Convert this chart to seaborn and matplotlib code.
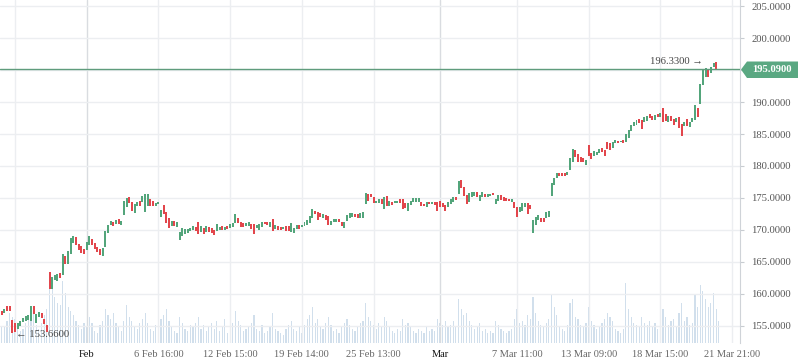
import numpy as np
import pandas as pd
import matplotlib
matplotlib.use("Agg")
import matplotlib.pyplot as plt
from matplotlib.patches import Polygon
import seaborn as sns

# candle bodies, one per bar (open / close)
opens = [
    157.34, 157.34, 156.98, 158.13, 158.13, 155.94, 155.52, 154.58, 154.95, 155.58,
    155.83, 155.94, 155.83, 158.17, 155.42, 156.36, 156.98, 156.09, 155.16, 163.39,
    160.78, 162.19, 162.03, 163.23, 162.97, 165.98, 164.64, 166.30, 167.92, 168.86,
    167.81, 167.50, 167.08, 166.88, 167.66, 168.55, 168.02, 167.30, 167.03, 165.98,
    167.39, 169.48, 170.73, 171.25, 170.89, 171.67, 170.78, 172.34, 173.64, 175.16,
    174.42, 172.70, 173.80, 174.53, 174.42, 172.86, 173.80, 174.84, 174.58, 173.80,
    174.06, 171.98, 173.91, 172.86, 171.92, 170.67, 171.45, 170.47, 168.44, 169.06,
    169.38, 169.48, 169.89, 170.05, 170.52, 171.30, 169.73, 170.27, 169.73, 170.42,
    170.27, 170.00, 169.84, 170.00, 170.67, 170.00, 170.67, 170.31, 170.47, 171.14,
    171.92, 171.30, 171.09, 170.67, 170.67, 170.89, 170.89, 170.27, 170.05, 170.52,
    171.30, 171.30, 170.42, 171.72, 170.11, 170.63, 170.52, 170.11, 170.63, 170.63,
    169.73, 169.53, 170.16, 170.78, 170.42, 170.67, 170.78, 171.09, 171.83, 172.97,
    172.77, 172.61, 171.83, 172.34, 172.23, 170.73, 171.30, 171.20, 171.72, 171.20,
    170.27, 171.45, 171.83, 172.08, 172.50, 172.45, 171.92, 171.92, 174.02, 175.60,
    175.63, 175.10, 174.17, 174.27, 174.79, 173.23, 175.31, 173.75, 174.42, 174.17,
    174.20, 174.79, 174.79, 174.17, 173.02, 173.91, 174.33, 174.42, 174.33, 174.33,
    174.06, 173.54, 174.42, 174.02, 174.33, 174.33, 174.53, 174.17, 173.91, 173.64,
    174.06, 174.42, 175.21, 175.63, 177.81, 176.67, 175.47, 174.42, 175.10, 175.31,
    175.89, 174.58, 175.10, 175.63, 175.21, 175.31, 175.78, 174.02, 174.58, 175.47,
    175.10, 174.95, 174.90, 174.42, 174.42, 173.64, 172.86, 173.02, 173.54, 174.17,
    173.86, 169.58, 170.78, 171.56, 171.92, 171.92, 171.83, 172.08, 175.36, 177.03,
    178.08, 178.86, 178.86, 178.96, 178.60, 179.38, 180.67, 182.50, 181.88, 181.45,
    181.30, 180.16, 183.28, 181.98, 181.56, 181.72, 182.08, 182.86, 182.50, 183.80,
    183.55, 182.86, 183.55, 183.91, 183.70, 184.06, 183.80, 184.42, 185.47, 186.30,
    186.41, 187.34, 187.19, 186.93, 187.08, 188.07, 187.86, 187.19, 188.07, 187.70,
    189.01, 188.07, 186.93, 187.81, 187.34, 186.93, 187.70, 186.51, 186.25, 187.34,
    186.15, 186.93, 187.19, 189.01, 189.64, 192.66, 193.95, 195.00, 194.48, 195.45,
    196.20, 195.05,
]
closes = [
    156.36, 156.67, 157.61, 157.39, 157.39, 153.86, 154.11, 155.42, 155.78, 156.20,
    156.56, 156.67, 158.17, 156.83, 156.83, 157.14, 156.30, 155.31, 154.11, 160.73,
    162.61, 162.97, 163.08, 162.45, 166.25, 164.64, 166.72, 168.80, 169.06, 167.66,
    166.83, 166.45, 166.25, 168.17, 169.06, 167.61, 166.98, 166.52, 166.05, 167.14,
    169.89, 170.78, 171.41, 170.67, 171.56, 170.94, 171.45, 174.53, 174.95, 174.17,
    173.02, 174.02, 174.38, 173.75, 175.36, 175.58, 175.67, 173.80, 173.80, 174.22,
    174.42, 173.13, 172.45, 171.14, 170.36, 171.45, 170.67, 171.20, 169.73, 170.27,
    170.11, 170.11, 170.36, 170.58, 169.84, 169.42, 170.58, 169.42, 170.63, 169.73,
    169.48, 169.22, 170.94, 170.52, 169.95, 170.42, 170.16, 170.94, 171.14, 172.50,
    171.14, 170.52, 170.52, 171.09, 171.20, 170.11, 169.38, 170.78, 170.89, 171.30,
    170.89, 170.78, 171.30, 169.84, 170.78, 170.00, 170.00, 170.42, 169.89, 169.84,
    171.05, 170.36, 170.78, 170.20, 170.78, 171.30, 171.52, 172.23, 173.28, 172.45,
    171.52, 171.98, 172.50, 171.56, 170.78, 171.41, 171.72, 171.72, 171.30, 170.63,
    171.20, 172.34, 172.61, 172.70, 171.98, 171.92, 172.61, 172.86, 175.73, 174.60,
    175.10, 174.17, 174.58, 174.79, 174.02, 175.10, 173.75, 174.58, 173.91, 174.58,
    174.60, 174.27, 173.23, 173.39, 174.17, 174.58, 174.95, 174.95, 174.95, 173.80,
    173.75, 174.33, 174.02, 174.42, 173.91, 173.02, 173.54, 173.64, 173.02, 174.33,
    174.79, 175.21, 174.69, 177.66, 176.52, 175.31, 174.02, 175.73, 175.89, 175.89,
    175.10, 175.47, 175.89, 175.10, 175.58, 175.63, 175.47, 174.79, 175.47, 174.69,
    174.58, 174.58, 174.58, 174.79, 173.49, 172.08, 173.64, 174.17, 174.27, 172.50,
    173.34, 171.56, 172.08, 172.34, 171.30, 171.30, 172.86, 173.02, 177.39, 178.18,
    178.86, 178.44, 178.44, 178.44, 179.11, 181.20, 182.66, 181.45, 180.67, 180.67,
    180.67, 180.94, 181.56, 181.05, 182.34, 182.23, 182.61, 182.23, 181.56, 182.66,
    182.50, 183.80, 184.06, 183.55, 183.91, 183.55, 184.95, 185.63, 186.41, 186.93,
    187.19, 186.67, 185.78, 187.70, 187.86, 187.45, 187.19, 187.97, 187.70, 188.23,
    186.93, 187.03, 187.81, 187.03, 186.41, 187.45, 185.89, 184.73, 186.93, 186.25,
    186.93, 187.45, 189.53, 187.70, 192.77, 195.00, 195.27, 193.95, 195.52, 196.05,
    195.10, 195.09,
]
# volume, arbitrary units
volume = [
    21, 16, 16, 22, 30, 26, 24, 18, 12, 14,
    20, 26, 24, 30, 18, 14, 20, 28, 34, 54,
    58, 46, 40, 38, 62, 50, 36, 32, 28, 22,
    18, 14, 20, 16, 26, 20, 12, 10, 18, 22,
    34, 28, 24, 30, 20, 16, 12, 22, 38, 26,
    22, 16, 14, 20, 24, 30, 20, 14, 12, 18,
    16, 24, 28, 34, 22, 16, 12, 10, 26, 20,
    14, 12, 18, 16, 20, 26, 14, 18, 12, 16,
    20, 14, 22, 12, 16, 24, 10, 14, 20, 32,
    22, 18, 12, 14, 16, 20, 28, 14, 12, 18,
    10, 12, 16, 30, 14, 12, 10, 8, 14, 18,
    22, 14, 12, 16, 10, 18, 24, 28, 36, 20,
    24, 16, 14, 20, 26, 18, 12, 14, 10, 16,
    20, 24, 18, 14, 12, 16, 20, 22, 40, 26,
    22, 18, 14, 20, 16, 26, 22, 16, 12, 10,
    14, 12, 24, 18, 20, 16, 12, 10, 14, 12,
    10, 16, 12, 14, 12, 24, 20, 18, 22, 16,
    18, 22, 16, 44, 34, 28, 30, 22, 18, 14,
    16, 20, 12, 14, 10, 12, 10, 22, 18, 14,
    12, 10, 12, 14, 24, 34, 20, 22, 18, 28,
    24, 46, 30, 22, 18, 16, 20, 24, 48, 36,
    28, 16, 14, 12, 18, 40, 44, 26, 24, 18,
    16, 20, 36, 22, 18, 14, 16, 20, 24, 30,
    26, 22, 14, 12, 10, 14, 60, 34, 26, 20,
    18, 16, 26, 20, 18, 22, 16, 20, 14, 12,
    34, 26, 18, 22, 24, 16, 30, 40, 22, 26,
    18, 20, 48, 36, 58, 52, 44, 36, 40, 50,
    34, 22,
]

tick_pos = [6, 33, 60, 87, 114, 141, 166, 195, 222, 249, 276]
tick_labels = ["", "Feb", "6 Feb 16:00", "12 Feb 15:00", "19 Feb 14:00",
               "25 Feb 13:00", "Mar", "7 Mar 11:00", "13 Mar 09:00",
               "18 Mar 15:00", "21 Mar 21:00"]
month_ticks = ["Feb", "Mar"]
price_ticks = [155, 160, 165, 170, 175, 180, 185, 190, 195, 200, 205]
last_price = 195.09
low_price = 153.66
high_price = 196.33

GREEN = "#53a57b"
RED = "#e2464c"
GRID = "#eceef1"

sns.set_style("white")
plt.rcParams["font.family"] = ["Liberation Serif", "DejaVu Sans"]

df = pd.DataFrame({"open": opens, "close": closes, "volume": volume})
df["idx"] = np.arange(len(df))
df["bottom"] = df[["open", "close"]].min(axis=1)
df["body"] = (df["close"] - df["open"]).abs().clip(lower=0.16)
df["color"] = np.where(df["close"] >= df["open"], GREEN, RED)

W, H = 798, 363
fig = plt.figure(figsize=(W / 100, H / 100), dpi=100)
rect = [0, 20 / H, 740 / W, 343 / H]
xlim = (0.354, 278.97)

# volume underneath
ax_vol = fig.add_axes(rect)
sns.barplot(data=df, x="idx", y="volume", native_scale=True, color="#cddff0",
            errorbar=None, width=0.45, linewidth=0, ax=ax_vol)
ax_vol.set_xlim(xlim)
ax_vol.set_ylim(0, 343)
ax_vol.axis("off")

# price on top
ax = fig.add_axes(rect, facecolor="none")
ax.bar(df["idx"], df["body"], bottom=df["bottom"], width=0.75,
       color=df["color"], linewidth=0, zorder=3)
ax.set_xlim(xlim)
ax.set_ylim(152.34, 205.94)

for t, lab in zip(tick_pos, tick_labels):
    c = "#d9dce0" if lab in month_ticks else GRID
    ax.axvline(t, color=c, lw=1, zorder=0)
for p in price_ticks:
    ax.axhline(p, color=GRID, lw=1, zorder=0)

ax.axhline(last_price, color="#5f9c7c", lw=1.0, zorder=4)

ax.yaxis.tick_right()
ax.set_yticks(price_ticks)
# the 195 label sits under the last-price tag
ax.set_yticklabels(["" if p == 195 else f"{p:.4f}" for p in price_ticks])
ax.set_xticks(tick_pos)
ax.set_xticklabels(tick_labels)
ax.tick_params(axis="y", length=3, color="#c8ccd1", pad=5, labelsize=7.7, labelcolor="#555555")
ax.tick_params(axis="x", length=3, color="#c8ccd1", pad=2, labelsize=7.5, labelcolor="#666666")
for lab in ax.get_xticklabels():
    if lab.get_text() in month_ticks:
        lab.set_color("#111111")

for s in ["top", "left", "bottom"]:
    ax.spines[s].set_visible(False)
ax.spines["right"].set_color("#cfd3d8")
ax.set_xlabel("")
ax.set_ylabel("")

# low / high markers
ax.text(6.4, low_price, "\u2190 153.6600", ha="left", va="center",
        fontsize=7.7, color="#444444", zorder=5)
ax.text(265.0, high_price - 0.05, "196.3300 \u2192", ha="right", va="center",
        fontsize=7.7, color="#444444", zorder=5)

# last price tag on the axis
pts = [(741, 69.5), (747, 61.5), (798, 61.5), (798, 78), (747, 78)]
tag = Polygon([(px / W, 1 - py / H) for px, py in pts], closed=True,
              transform=fig.transFigure, facecolor="#5aa882", edgecolor="none")
fig.patches.append(tag)
fig.text(772 / W, 1 - 70 / H, f"{last_price:.4f}", ha="center", va="center",
         fontsize=7.7, color="white", fontweight="bold")

fig.savefig("out.png", dpi=100)
